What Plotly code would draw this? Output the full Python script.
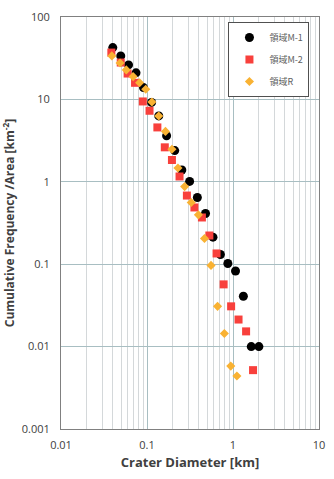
import plotly.graph_objects as go

# Region M-1 (black circles)
m1_x = [0.040, 0.0495, 0.061, 0.0745, 0.091, 0.113, 0.137, 0.169, 0.21, 0.254, 0.313, 0.385,
        0.479, 0.585, 0.714, 0.871, 1.07, 1.32, 1.63, 2.0]
m1_y = [42.5, 33.7, 26.2, 21.0, 13.9, 9.2, 6.3, 3.62, 2.39, 1.39, 1.01, 0.644,
        0.412, 0.213, 0.131, 0.102, 0.0826, 0.0408, 0.0100, 0.0100]

# Region M-2 (red squares)
m2_x = [0.0385, 0.0495, 0.0595, 0.0726, 0.0894, 0.107, 0.132, 0.161, 0.195, 0.239, 0.291,
        0.356, 0.435, 0.531, 0.644, 0.778, 0.951, 1.16, 1.42, 1.71]
m2_y = [37.0, 28.0, 20.6, 15.9, 9.44, 7.28, 4.57, 2.62, 1.84, 1.16, 0.681,
        0.488, 0.369, 0.223, 0.135, 0.0569, 0.0308, 0.0213, 0.0153, 0.00518]

# Region R (yellow diamonds)
r_x = [0.039, 0.0486, 0.0574, 0.0689, 0.082, 0.0967, 0.114, 0.137, 0.164, 0.195, 0.229,
       0.274, 0.327, 0.396, 0.466, 0.555, 0.661, 0.793, 0.942, 1.11]
r_y = [33.7, 27.7, 22.8, 18.9, 15.9, 13.3, 9.3, 6.3, 4.09, 2.48, 1.47,
       0.875, 0.56, 0.397, 0.205, 0.0967, 0.0308, 0.0144, 0.0058, 0.00439]

names = ["領域M-1", "領域M-2", "領域R"]

x_ticks = [0.01, 0.1, 1, 10]
x_tick_text = ["0.01", "0.1", "1", "10"]
y_ticks = [0.001, 0.01, 0.1, 1, 10, 100]
y_tick_text = ["0.001", "0.01", "0.1", "1", "10", "100"]
x_minor = [m * d for d in [0.01, 0.1, 1] for m in range(2, 10)]

fig = go.Figure()
fig.add_trace(go.Scatter(x=m1_x, y=m1_y, mode="markers", name=names[0], legendgroup="a",
                         marker=dict(symbol="circle", size=9, color="#000000")))
fig.add_trace(go.Scatter(x=m2_x, y=m2_y, mode="markers", name=names[1], legendgroup="b",
                         marker=dict(symbol="square", size=8, color="#F8403C")))
fig.add_trace(go.Scatter(x=r_x, y=r_y, mode="markers", name=names[2], legendgroup="c",
                         marker=dict(symbol="diamond", size=7, color="#F9B233")))

axis_font = dict(family="Open Sans, Liberation Sans, sans-serif", size=11, color="#404040")
fig.update_layout(
    width=334, height=479,
    margin=dict(l=60, r=9, t=16, b=50),
    paper_bgcolor="white", plot_bgcolor="white",
    font=dict(family="Open Sans, Liberation Sans, sans-serif", color="#404040"),
    legend=dict(x=0.649, y=0.988, xanchor="left", yanchor="top",
                bordercolor="#505050", borderwidth=1, bgcolor="white",
                font=dict(family="Noto Sans CJK JP, sans-serif", size=9, color="#606060"),
                itemwidth=30, tracegroupgap=3),
    showlegend=True,
)
fig.update_xaxes(type="log", range=[-2, 1], tickvals=x_ticks, ticktext=x_tick_text,
                 tickfont=axis_font, showgrid=True, gridcolor="#A8BEC2", gridwidth=1,
                 minor=dict(tickvals=x_minor, showgrid=True, gridcolor="#D4D8DA", gridwidth=1),
                 showline=True, linecolor="#808080", linewidth=1, mirror=True,
                 ticks="", zeroline=False, ticklabelstandoff=6,
                 title=dict(text="<b>Crater Diameter [km]</b>",
                            font=dict(family="Open Sans, Liberation Sans, sans-serif", size=13, color="#404040"),
                            standoff=6))
fig.update_yaxes(type="log", range=[-3, 2], tickvals=y_ticks, ticktext=y_tick_text,
                 tickfont=axis_font, showgrid=True, gridcolor="#A8BEC2", gridwidth=1,
                 showline=True, linecolor="#808080", linewidth=1, mirror=True,
                 ticks="", zeroline=False, ticklabelstandoff=8,
                 title=dict(text="<b>Cumulative Frequency /Area [km<sup>-2</sup>]</b>",
                            font=dict(family="Open Sans, Liberation Sans, sans-serif", size=12, color="#404040"),
                            standoff=4))

fig.write_html("out.html")
